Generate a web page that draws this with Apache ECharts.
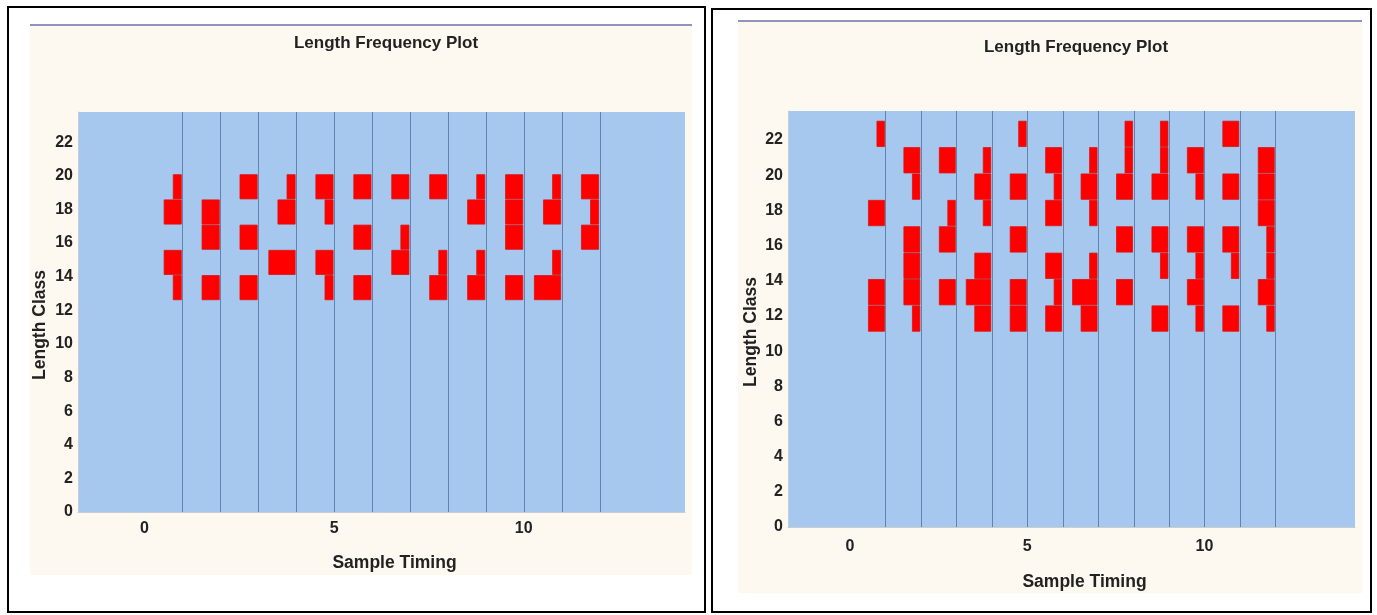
<!DOCTYPE html>
<html>
<head>
<meta charset="utf-8">
<script src="https://cdn.jsdelivr.net/npm/echarts@6/dist/echarts.min.js"></script>
<style>
html,body{margin:0;padding:0;background:#ffffff;}
#chart{width:1377px;height:615px;}
</style>
</head>
<body>
<div id="chart"></div>
<script>
// ---- data ----
const sampleTiming = [1, 2, 3, 4, 5, 6, 7, 8, 9, 10, 11, 12];
const classLower = [11.1, 12.6, 14.1, 15.6, 17.1, 18.6, 20.1, 21.6];
const classWidth = 1.5;
const yTickLabels = [0, 2, 4, 6, 8, 10, 12, 14, 16, 18, 20, 22];
const xTickLabels = [0, 5, 10];
// counts per sample (rows) per length class (columns, low -> high)
const leftCounts = [
  [0, 1, 2, 0, 2, 1, 0, 0],
  [0, 2, 0, 2, 2, 0, 0, 0],
  [0, 2, 0, 2, 0, 2, 0, 0],
  [0, 0, 3, 0, 2, 1, 0, 0],
  [0, 1, 2, 0, 1, 2, 0, 0],
  [0, 2, 0, 2, 0, 2, 0, 0],
  [0, 0, 2, 1, 0, 2, 0, 0],
  [0, 2, 1, 0, 0, 2, 0, 0],
  [0, 2, 1, 0, 2, 1, 0, 0],
  [0, 2, 0, 2, 2, 2, 0, 0],
  [0, 3, 1, 0, 2, 1, 0, 0],
  [0, 0, 0, 2, 1, 2, 0, 0]
];
const rightCounts = [
  [2, 2, 0, 0, 2, 0, 0, 1],
  [1, 2, 2, 2, 0, 1, 2, 0],
  [0, 2, 0, 2, 1, 0, 2, 0],
  [2, 3, 2, 0, 1, 2, 1, 0],
  [2, 2, 0, 2, 0, 2, 0, 1],
  [2, 1, 2, 0, 2, 1, 2, 0],
  [2, 3, 1, 0, 1, 2, 1, 0],
  [0, 2, 0, 2, 0, 2, 1, 1],
  [2, 0, 1, 2, 0, 2, 1, 1],
  [1, 2, 1, 2, 0, 1, 2, 0],
  [2, 0, 1, 2, 0, 2, 0, 2],
  [1, 2, 1, 1, 2, 2, 2, 0]
];

// ---- build ----
const countUnit = 0.24; // x-axis units per count
function toItems(counts) {
  const items = [];
  counts.forEach((row, si) => {
    row.forEach((c, ci) => {
      if (c > 0) items.push([sampleTiming[si], classLower[ci], c]);
    });
  });
  return items;
}

const FONT = "'Liberation Sans', Arial, sans-serif";
const labelStyle = {fontFamily: FONT, fontWeight: 'bold', fontSize: 16, color: '#222'};

function barRender(params, api) {
  const x = api.value(0), lo = api.value(1), c = api.value(2);
  const p1 = api.coord([x - c * countUnit, lo + classWidth]);
  const p2 = api.coord([x, lo]);
  return {
    type: 'rect',
    shape: {x: p1[0], y: p1[1] + 0.5, width: p2[0] - p1[0] - 1, height: p2[1] - p1[1] - 1},
    style: {fill: '#ff0000', stroke: '#dd1111', lineWidth: 0.8}
  };
}
function lineRender(params, api) {
  const cs = params.coordSys;
  const p = api.coord([api.value(0), 0]);
  return {
    type: 'line',
    shape: {x1: Math.round(p[0]) + 0.5, y1: cs.y, x2: Math.round(p[0]) + 0.5, y2: cs.y + cs.height},
    style: {stroke: '#6482ae', lineWidth: 1}
  };
}

function xAxis(gi, gap, margin) {
  return {
    type: 'value', gridIndex: gi, min: -1.75, max: 14.25,
    name: 'Sample Timing', nameLocation: 'middle', nameGap: gap,
    nameTextStyle: {fontFamily: FONT, fontWeight: 'bold', fontSize: 17.5, color: '#222', padding: [0, 0, 0, 26]},
    axisLine: {show: true, onZero: false, lineStyle: {color: '#c8cdd4', width: 1}},
    axisTick: {show: false},
    splitLine: {show: false},
    axisLabel: Object.assign({customValues: xTickLabels, margin: margin}, labelStyle)
  };
}
function yAxis(gi, max, gap) {
  return {
    type: 'value', gridIndex: gi, min: 0, max: max,
    name: 'Length Class', nameLocation: 'middle', nameGap: gap, nameRotate: 90,
    nameTextStyle: {fontFamily: FONT, fontWeight: 'bold', fontSize: 17.5, color: '#222', padding: [0, 26, 0, 0]},
    axisLine: {show: true, onZero: false, lineStyle: {color: '#c8cdd4', width: 1}},
    axisTick: {show: false},
    splitLine: {show: false},
    axisLabel: Object.assign({customValues: yTickLabels, margin: 5}, labelStyle)
  };
}

const chart = echarts.init(document.getElementById('chart'), null, {renderer: 'canvas'});
chart.setOption({
  backgroundColor: '#ffffff',
  animation: false,
  graphic: [
    {type: 'rect', z: -10, shape: {x: 30, y: 25, width: 662, height: 550}, style: {fill: '#fdf9f0'}},
    {type: 'line', z: -9, shape: {x1: 30, y1: 25, x2: 692, y2: 25}, style: {stroke: '#6e6ea8', lineWidth: 1.5}},
    {type: 'rect', z: -10, shape: {x: 738, y: 21, width: 624, height: 572}, style: {fill: '#fdf9f0'}},
    {type: 'line', z: -9, shape: {x1: 738, y1: 21, x2: 1362, y2: 21}, style: {stroke: '#6e6ea8', lineWidth: 1.5}},
    {type: 'rect', z: 100, shape: {x: 8, y: 7, width: 697, height: 605}, style: {fill: null, stroke: '#000', lineWidth: 2}},
    {type: 'rect', z: 100, shape: {x: 712, y: 9, width: 659, height: 603}, style: {fill: null, stroke: '#000', lineWidth: 2}}
  ],
  title: [
    {text: 'Length Frequency Plot', left: 381, top: 30, textAlign: 'center',
     textStyle: {fontFamily: FONT, fontWeight: 'bold', fontSize: 17, color: '#222'}},
    {text: 'Length Frequency Plot', left: 1071, top: 34, textAlign: 'center',
     textStyle: {fontFamily: FONT, fontWeight: 'bold', fontSize: 17, color: '#222'}}
  ],
  grid: [
    {left: 78, top: 112, width: 607, height: 400, show: true, backgroundColor: '#a6c8ee', borderWidth: 0},
    {left: 788, top: 111, width: 567, height: 416, show: true, backgroundColor: '#a6c8ee', borderWidth: 0}
  ],
  xAxis: [xAxis(0, 42, 9), xAxis(1, 46, 12)],
  yAxis: [yAxis(0, 23.8, 29), yAxis(1, 23.65, 28)],
  series: [
    {type: 'custom', xAxisIndex: 0, yAxisIndex: 0, z: 1, silent: true, renderItem: lineRender, data: sampleTiming.map(v => [v])},
    {type: 'custom', xAxisIndex: 0, yAxisIndex: 0, z: 2, silent: true, renderItem: barRender, data: toItems(leftCounts)},
    {type: 'custom', xAxisIndex: 1, yAxisIndex: 1, z: 1, silent: true, renderItem: lineRender, data: sampleTiming.map(v => [v])},
    {type: 'custom', xAxisIndex: 1, yAxisIndex: 1, z: 2, silent: true, renderItem: barRender, data: toItems(rightCounts)}
  ]
});
</script>
</body>
</html>
